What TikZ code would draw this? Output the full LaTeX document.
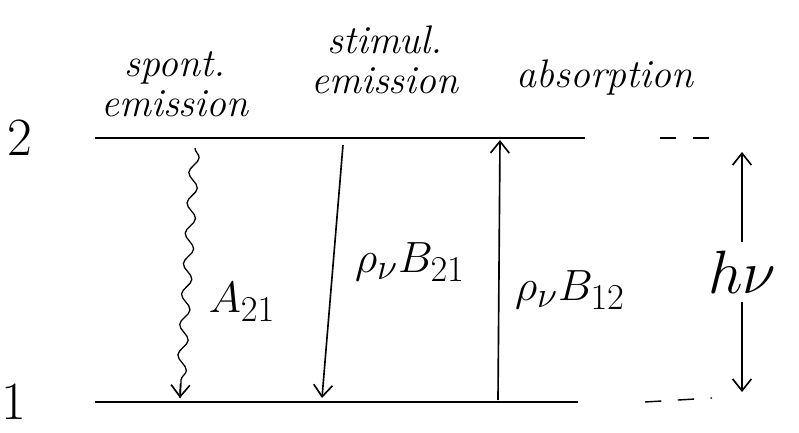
\documentclass[tikz,border=0pt]{standalone}
\usetikzlibrary{arrows.meta,decorations.pathmorphing,calc}
\begin{document}
\begin{tikzpicture}[x=0.03cm,y=-0.03cm,
  level/.style={line width=1.6pt},
  dashlevel/.style={line width=1.2pt,dashed,dash pattern=on 14pt off 14pt},
  trans/.style={line width=1.4pt,-{Straight Barb[length=10pt,width=16pt,line width=1.4pt]}},
  wavy/.style={line width=1.1pt,decorate,decoration={snake,amplitude=4pt,segment length=26pt,post length=12pt}},
  lab/.style={font=\fontsize{34}{38}\selectfont\itshape,inner sep=0pt},
  mlab/.style={font=\Huge,inner sep=0pt,scale=1.5},
  numlab/.style={font=\fontsize{46}{50}\selectfont,inner sep=0pt}]
\useasboundingbox (0,0) rectangle (799,433);
% levels
\coordinate (u1) at (95,138); \coordinate (u2) at (585,138);
\coordinate (l1) at (95,402); \coordinate (l2) at (578,402);
\draw[level] (u1) -- (u2);
\draw[level] (l1) -- (l2);
\node[numlab] (n2) at (20,138) {2};
\node[numlab] (n1) at (14,402) {1};
% header labels
\node[lab,align=center] (sp) at (175,84) {spont.\\[-4pt]emission};
\node[lab,align=center] (st) at (385,60) {stimul.\\[-4pt]emission};
\node[lab] (ab) at (605,78) {absorption};
% spontaneous emission
\coordinate (a1) at (195,148); \coordinate (a2) at (180,398);
\coordinate (a3) at ($(a2)+(0.5,-14)$);
\draw[wavy] (a1) -- (a2);
\draw[trans] (a3) -- (a2);
\node[mlab] (A) at (242,302) {$A_{21}$};
% stimulated emission
\coordinate (s1) at (343,145); \coordinate (s2) at (322,398);
\draw[trans] (s1) -- (s2);
\node[mlab] (B21) at (410,262) {$\rho_\nu B_{21}$};
% absorption
\coordinate (b1) at (498,400); \coordinate (b2) at (500,140);
\draw[trans] (b1) -- (b2);
\node[mlab] (B12) at (570,290) {$\rho_\nu B_{12}$};
% energy gap
\coordinate (d1) at (660,138); \coordinate (d2) at (712,138);
\coordinate (e1) at (645,402); \coordinate (e2) at (712,398);
\draw[dashlevel] (d1) -- (d2);
\draw[dashlevel] (e1) -- (e2);
\node[font=\Huge,inner sep=0pt,scale=2.1] (hv) at (742,272) {$h\nu$};
\coordinate (h1) at ($(hv.north)+(0,-8)$);
\coordinate (h2) at ($(hv.south)+(0,8)$);
\coordinate (h3) at (742,152);
\coordinate (h4) at (742,392);
\draw[trans] (h1) -- (h3);
\draw[trans] (h2) -- (h4);
\end{tikzpicture}
\end{document}
